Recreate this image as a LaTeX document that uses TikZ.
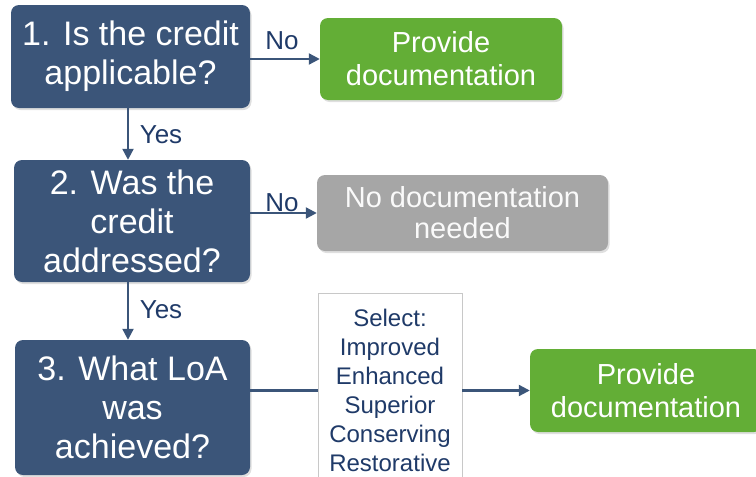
\documentclass[tikz,border=0pt]{standalone}
\usepackage{fontspec}
\setmainfont{Liberation Sans}
\usetikzlibrary{shadows,arrows.meta}
\definecolor{qblue}{HTML}{3B5579}
\definecolor{qgreen}{HTML}{63AE36}
\definecolor{qgray}{HTML}{A6A6A6}
\definecolor{qnavy}{HTML}{1F3A68}
\definecolor{qline}{HTML}{3B5579}
\definecolor{qborder}{HTML}{C8C8C8}
\tikzset{
  box/.style={rectangle, rounded corners=8pt, inner sep=0pt, align=center,
    text=white, drop shadow={opacity=0.25, shadow xshift=1.5pt, shadow yshift=-2pt}},
  question/.style={box, fill=qblue, font=\fontsize{34}{39}\selectfont},
  action/.style={box, fill=qgreen, font=\fontsize{29}{33}\selectfont},
  noaction/.style={box, fill=qgray, text=white!96!gray, font=\fontsize{29}{31}\selectfont},
  selbox/.style={rectangle, draw=qborder, line width=0.8pt, fill=white, inner sep=0pt,
    align=center, text=qnavy, font=\fontsize{24}{29}\selectfont},
  lbl/.style={text=qnavy, font=\fontsize{26}{28}\selectfont, inner sep=0pt},
  arr/.style={draw=qline, line width=2.2pt, -{Triangle[length=11pt,width=11pt]}},
  plain/.style={draw=qline, line width=2.2pt}
}
\begin{document}
\begin{tikzpicture}[x=1pt,y=-1pt]
\useasboundingbox (0,0) rectangle (756,477);
\node[question, minimum width=239pt, minimum height=103pt] (b1) at (130.5,56.5) {1. Is the credit\\applicable?};
\node[question, minimum width=236pt, minimum height=122pt] (b2) at (132,221) {2. Was the\\credit\\addressed?};
\node[question, minimum width=235pt, minimum height=135pt] (b3) at (132.5,407.5) {3. What LoA\\was\\achieved?};
\node[action, minimum width=242pt, minimum height=82pt] (g1) at (441,59) {Provide\\documentation};
\node[noaction, minimum width=291pt, minimum height=76pt] (n2) at (462.5,213) {No documentation\\needed};
\node[selbox, minimum width=144pt, minimum height=195pt] (sel) at (390,390.5) {Select:\\Improved\\Enhanced\\Superior\\Conserving\\Restorative};
\node[action, minimum width=232pt, minimum height=83pt] (g2) at (646,390.5) {Provide\\documentation};

\draw[arr] (b1.east |- g1.west) -- (g1.west);
\draw[arr] (b1.south -| 128,0) -- (b2.north -| 128,0);
\draw[arr] (b2.east |- n2.west) -- (n2.west);
\draw[arr] (b2.south -| 128,0) -- (b3.north -| 128,0);
\draw[plain] (b3.east |- sel.west) -- (sel.west);
\draw[arr] (sel.east) -- (g2.west);

\node[lbl] (l1) at (282,41) {No};
\node[lbl] (l2) at (161,135) {Yes};
\node[lbl] (l3) at (282,203) {No};
\node[lbl] (l4) at (161,310) {Yes};
\end{tikzpicture}
\end{document}
